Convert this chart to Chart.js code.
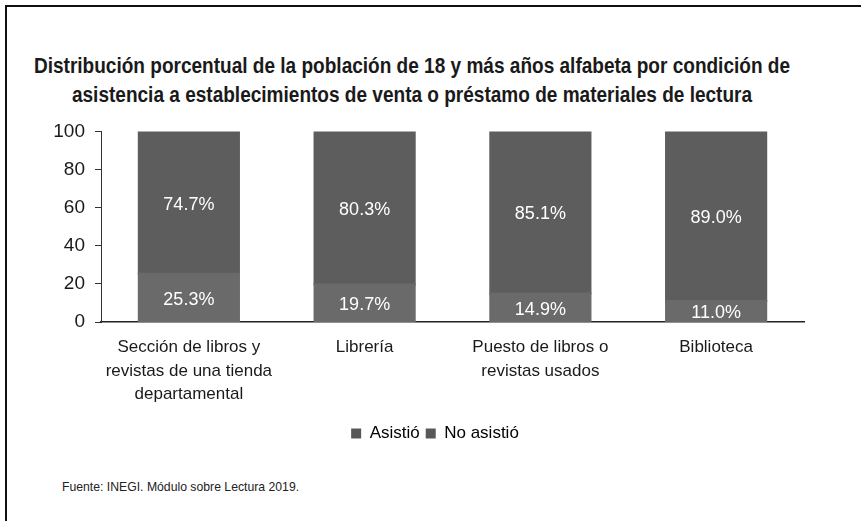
<!DOCTYPE html>
<html>
<head>
<meta charset="utf-8">
<script src="https://cdn.jsdelivr.net/npm/chart.js@4.4.0/dist/chart.umd.min.js"></script>
<style>
    html, body { margin: 0; padding: 0; background: #fff; }
    body { width: 861px; height: 521px; position: relative; overflow: hidden;
           font-family: 'Liberation Sans', Arial, sans-serif; }
    #frame { position: absolute; left: 5px; top: 5px; right: -10px; bottom: -10px;
             border-top: 2px solid #111; border-left: 2px solid #111; }
    #title { position: absolute; left: -38px; width: 900px; top: 51px; text-align: center;
             white-space: nowrap; font-weight: bold; font-size: 22px; line-height: 29px;
             color: #1a1a1a; transform: scaleX(0.865); transform-origin: 450px 0; }
    #source { position: absolute; left: 62px; top: 479px; font-size: 13px; color: #222;
              white-space: nowrap; transform: scaleX(0.94); transform-origin: 0 0; }
    #chartBox { position: absolute; left: 0; top: 110px; width: 861px; height: 342px; }
</style>
</head>
<body>
<div id="frame"></div>
<div id="title">Distribución porcentual de la población de 18 y más años alfabeta por condición de<br>asistencia a establecimientos de venta o préstamo de materiales de lectura</div>
<div id="chartBox"><canvas id="chart"></canvas></div>
<div id="source">Fuente: INEGI. Módulo sobre Lectura 2019.</div>
<script>
// ============================================
// Asistencia a establecimientos de lectura
// ============================================

const FONT = "'Liberation Sans', Arial, sans-serif";

// Data
const categories = [
    ['Sección de libros y', 'revistas de una tienda', 'departamental'],
    ['Librería'],
    ['Puesto de libros o', 'revistas usados'],
    ['Biblioteca']
];
const seriesNames = ['Asistió', 'No asistió'];
const asistio = [25.3, 19.7, 14.9, 11.0];
const noAsistio = [74.7, 80.3, 85.1, 89.0];
const yTicks = [0, 20, 40, 60, 80, 100];

// Value labels drawn inside each segment
const segmentLabels = {
    id: 'segmentLabels',
    afterDatasetsDraw(chart) {
        const ctx = chart.ctx;
        ctx.save();
        ctx.font = `18px ${FONT}`;
        ctx.fillStyle = '#ffffff';
        ctx.textAlign = 'center';
        ctx.textBaseline = 'middle';
        chart.data.datasets.forEach((ds, i) => {
            chart.getDatasetMeta(i).data.forEach((bar, j) => {
                const mid = (bar.y + bar.base) / 2 + 2;
                ctx.fillText(ds.data[j].toFixed(1) + '%', bar.x, mid);
            });
        });
        ctx.restore();
    }
};

// Nudge the legend a little to the right, as in the original
const legendShift = {
    id: 'legendShift',
    afterLayout(chart) {
        chart.legend.left += 13;
        chart.legend.right += 13;
    }
};

new Chart(document.getElementById('chart'), {
    type: 'bar',
    data: {
        labels: categories,
        datasets: [
            {
                label: seriesNames[0],
                data: asistio,
                backgroundColor: '#6a6a6a',
                borderWidth: 0
            },
            {
                label: seriesNames[1],
                data: noAsistio,
                backgroundColor: '#5d5d5d',
                borderWidth: 0
            }
        ]
    },
    options: {
        responsive: true,
        maintainAspectRatio: false,
        animation: false,
        datasets: {
            bar: {
                categoryPercentage: 1,
                barPercentage: 0.57,
                inflateAmount: 1
            }
        },
        layout: {
            padding: { left: 40, right: 57, top: 20, bottom: 0 }
        },
        plugins: {
            legend: {
                position: 'bottom',
                labels: {
                    boxWidth: 10,
                    boxHeight: 10,
                    color: '#1a1a1a',
                    padding: 6,
                    font: { family: FONT, size: 17 },
                    generateLabels(chart) {
                        return chart.data.datasets.map((ds, i) => ({
                            text: ds.label,
                            fillStyle: '#585858',
                            strokeStyle: '#585858',
                            lineWidth: 0,
                            datasetIndex: i
                        }));
                    }
                }
            },
            tooltip: { enabled: false }
        },
        scales: {
            x: {
                stacked: true,
                grid: { display: false, drawTicks: false },
                border: { display: true, color: '#222', width: 1.5 },
                ticks: {
                    color: '#1a1a1a',
                    padding: 14,
                    maxRotation: 0,
                    autoSkip: false,
                    font: { family: FONT, size: 17, lineHeight: 1.38 }
                },
                afterFit(scale) { scale.height = 97; }
            },
            y: {
                stacked: true,
                min: 0,
                max: 100,
                afterBuildTicks(scale) {
                    scale.ticks = yTicks.map(v => ({ value: v }));
                },
                grid: { drawOnChartArea: false, drawTicks: true, tickLength: 6, color: '#333' },
                border: { display: true, color: '#333', width: 1 },
                ticks: {
                    color: '#1a1a1a',
                    padding: 10,
                    font: { family: FONT, size: 19 }
                },
                afterFit(scale) { scale.width = 61; }
            }
        }
    },
    plugins: [segmentLabels, legendShift]
});
</script>
</body>
</html>
